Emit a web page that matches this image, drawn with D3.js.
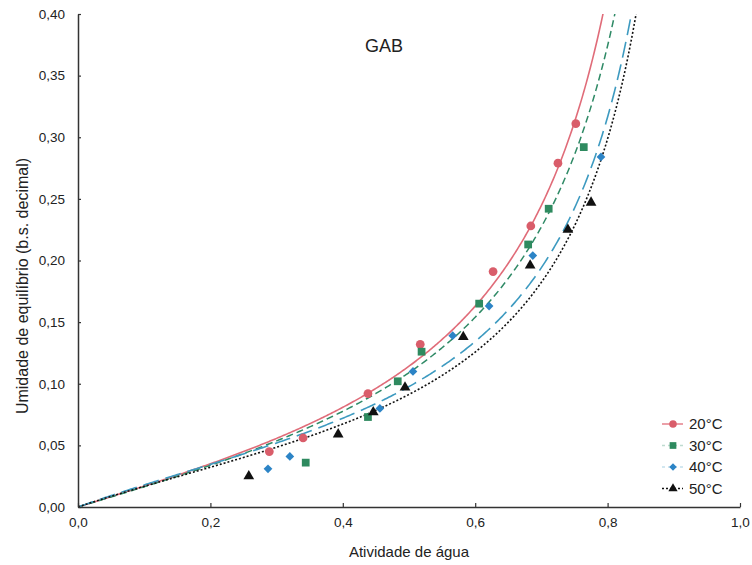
<!DOCTYPE html>
<html>
<head>
<meta charset="utf-8">
<script src="https://cdn.jsdelivr.net/npm/d3@7/dist/d3.min.js"></script>
<style>
  html, body { margin: 0; padding: 0; background: #fff; }
  svg { display: block; font-family: "Liberation Sans", Arial, sans-serif; }
</style>
</head>
<body>
<svg id="chart" width="752" height="565"></svg>
<script>
// Sorption isotherms: equilibrium moisture vs water activity, GAB fit
const seriesNames = ["20°C", "30°C", "40°C", "50°C"];

// Experimental points (water activity, moisture d.b.)
const aw20 = [0.289, 0.340, 0.438, 0.517, 0.627, 0.684, 0.725, 0.752];
const m20  = [0.045, 0.056, 0.092, 0.132, 0.191, 0.228, 0.279, 0.311];
const aw30 = [0.344, 0.438, 0.483, 0.519, 0.606, 0.680, 0.711, 0.764];
const m30  = [0.036, 0.073, 0.102, 0.126, 0.165, 0.213, 0.242, 0.292];
const aw40 = [0.287, 0.320, 0.456, 0.506, 0.566, 0.621, 0.687, 0.790];
const m40  = [0.031, 0.041, 0.080, 0.110, 0.139, 0.163, 0.204, 0.284];
const aw50 = [0.258, 0.393, 0.446, 0.494, 0.582, 0.683, 0.740, 0.775];
const m50  = [0.025, 0.059, 0.077, 0.097, 0.138, 0.196, 0.225, 0.247];

// GAB parameters per temperature: Xm, C, K
const gabXm = [0.0815, 0.0804, 0.0635, 0.0591];
const gabC  = [2.0, 2.0, 3.0, 3.0];
const gabK  = [1.03, 1.01, 1.017, 1.02];

const xTicks = [0, 0.2, 0.4, 0.6, 0.8, 1.0];
const yTicks = [0, 0.05, 0.10, 0.15, 0.20, 0.25, 0.30, 0.35, 0.40];

const awSets = [aw20, aw30, aw40, aw50];
const mSets = [m20, m30, m40, m50];

const styles = [
  { line: "#e06c79", fill: "#d95d6a", dash: null, width: 1.6, symbol: d3.symbolCircle, size: 60, rot: 0 },
  { line: "#2f8a66", fill: "#2e8a5f", dash: "7,4", width: 1.5, symbol: d3.symbolSquare, size: 60, rot: 0 },
  { line: "#3d9ac0", fill: "#2c84c6", dash: "16,7", width: 1.6, symbol: d3.symbolSquare, size: 38, rot: 45 },
  { line: "#111111", fill: "#111111", dash: "2,2", width: 1.6, symbol: d3.symbolTriangle, size: 50, rot: 0 }
];

const W = 752, H = 565;
const margin = { left: 78, right: 12, top: 14, bottom: 58 };
const iw = W - margin.left - margin.right;
const ih = H - margin.top - margin.bottom;

const svg = d3.select("#chart");
const g = svg.append("g").attr("transform", `translate(${margin.left},${margin.top})`);

const x = d3.scaleLinear().domain([0, 1]).range([0, iw]);
const y = d3.scaleLinear().domain([0, 0.4]).range([ih, 0]);

const fmtX = v => d3.format(".1f")(v).replace(".", ",");
const fmtY = v => d3.format(".2f")(v).replace(".", ",");

// clip the fitted curves to the plot area
svg.append("defs").append("clipPath").attr("id", "plotClip")
  .append("rect").attr("x", 0).attr("y", 0).attr("width", iw).attr("height", ih);

// GAB model curve
function gab(a, i) {
  const k = gabK[i], c = gabC[i], xm = gabXm[i];
  const ka = k * a;
  return xm * c * ka / ((1 - ka) * (1 - ka + c * ka));
}

const curveLine = d3.line().x(d => x(d[0])).y(d => y(d[1]));
const plot = g.append("g").attr("clip-path", "url(#plotClip)");

seriesNames.forEach((name, i) => {
  const pts = [];
  for (let a = 0; a <= 0.9; a += 0.002) {
    const m = gab(a, i);
    if (!(m >= 0) || !isFinite(m)) break;
    pts.push([a, m]);
    if (m > 0.405) break;
  }
  plot.append("path")
    .attr("d", curveLine(pts))
    .attr("fill", "none")
    .attr("stroke", styles[i].line)
    .attr("stroke-width", styles[i].width)
    .attr("stroke-dasharray", styles[i].dash);
});

// Experimental markers
seriesNames.forEach((name, i) => {
  const sym = d3.symbol().type(styles[i].symbol).size(styles[i].size);
  g.append("g").selectAll("path")
    .data(awSets[i].map((a, j) => [a, mSets[i][j]]))
    .join("path")
    .attr("d", sym)
    .attr("transform", d => `translate(${x(d[0])},${y(d[1])}) rotate(${styles[i].rot})`)
    .attr("fill", styles[i].fill);
});

// Axes
const xAxis = d3.axisBottom(x).tickValues(xTicks).tickFormat(fmtX).tickSizeInner(-4).tickSizeOuter(0).tickPadding(10);
const yAxis = d3.axisLeft(y).tickValues(yTicks).tickFormat(fmtY).tickSizeInner(-3).tickSizeOuter(0).tickPadding(13);

const gx = g.append("g").attr("transform", `translate(0,${ih})`).call(xAxis);
const gy = g.append("g").call(yAxis);
[gx, gy].forEach(ax => {
  ax.select(".domain").attr("stroke", "#333").attr("stroke-width", 1.5);
  ax.selectAll(".tick line").attr("stroke", "#333").attr("stroke-width", 1.2);
  ax.selectAll(".tick text").attr("fill", "#222").style("font-size", "13.5px");
});

// Titles
svg.append("text")
  .attr("x", 384).attr("y", 52)
  .attr("text-anchor", "middle")
  .style("font-size", "18px").attr("fill", "#222")
  .text("GAB");

svg.append("text")
  .attr("x", 409).attr("y", 557)
  .attr("text-anchor", "middle")
  .style("font-size", "15px").attr("fill", "#222")
  .text("Atividade de água");

svg.append("text")
  .attr("transform", "translate(28,286) rotate(-90)")
  .attr("text-anchor", "middle")
  .style("font-size", "16px").attr("fill", "#222")
  .text("Umidade de equilíbrio (b.s. decimal)");

// Legend
const legend = svg.append("g").attr("transform", "translate(662,424)");
seriesNames.forEach((name, i) => {
  const row = legend.append("g").attr("transform", `translate(0,${i * 21.5})`);
  row.append("line")
    .attr("x1", 0).attr("x2", 21).attr("y1", 0).attr("y2", 0)
    .attr("stroke", styles[i].line)
    .attr("stroke-width", 1.3)
    .attr("stroke-dasharray", i === 3 ? "2,2" : (i === 0 ? null : "3,3"))
    .attr("opacity", i === 0 || i === 3 ? 1 : 0.3);
  row.append("path")
    .attr("d", d3.symbol().type(styles[i].symbol).size(styles[i].size * 0.75)())
    .attr("transform", `translate(11,0) rotate(${styles[i].rot})`)
    .attr("fill", styles[i].fill);
  row.append("text")
    .attr("x", 27).attr("y", 0).attr("dy", "0.35em")
    .style("font-size", "15px").attr("fill", "#222")
    .text(name);
});
</script>
</body>
</html>
